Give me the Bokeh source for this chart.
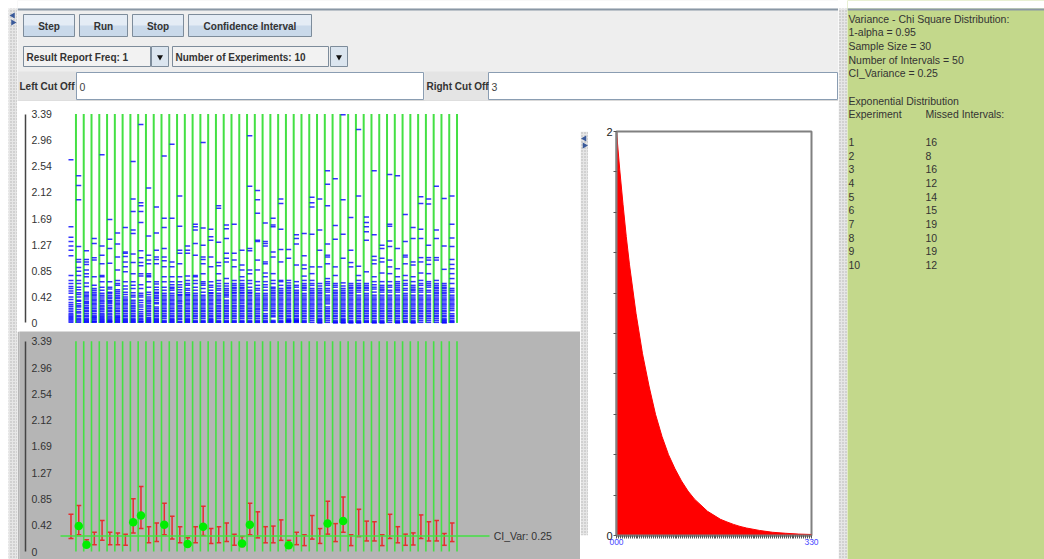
from bokeh.plotting import figure
from bokeh.layouts import row, column
from bokeh.models import (Range1d, LinearAxis, FixedTicker, ColumnDataSource,
                          Whisker, TeeHead)
from bokeh.embed import file_html
from bokeh.resources import INLINE
from bokeh.core.properties import value

FONT = "Liberation Sans"

# ---------------- data ----------------
tick_values = [0, 0.42375, 0.8475, 1.27125, 1.695, 2.11875, 2.5425, 2.96625, 3.39]
tick_labels = ["0", "0.42", "0.85", "1.27", "1.69", "2.12", "2.54", "2.96", "3.39"]

# 50 samples (n = 30) drawn from Exponential(rate 2)
samples = [
 [2.65,1.56,1.39,1.32,1.25,1.18,1.09,0.77,0.69,0.64,0.59,0.56,0.52,0.48,0.42,0.38,0.33,0.30,0.27,0.24,0.21,0.18,0.15,0.13,0.11,0.09,0.07,0.05,0.03,0.01],
 [2.39,2.23,2.00,1.24,1.03,0.99,0.90,0.84,0.77,0.69,0.64,0.58,0.54,0.49,0.42,0.37,0.31,0.26,0.18,0.12,0.07,0.03,0.46,0.35,0.28,0.22,0.16,0.10,0.05,0.01],
 [1.17,1.03,0.99,0.95,0.86,0.80,0.75,0.65,0.59,0.50,0.42,0.31,0.23,0.15,0.07,0.47,0.44,0.39,0.35,0.33,0.28,0.25,0.20,0.18,0.12,0.10,0.05,0.04,0.02,0.01],
 [1.37,1.29,1.06,1.02,0.75,0.61,0.56,0.50,0.42,0.34,0.26,0.20,0.15,0.07,0.02,0.53,0.47,0.45,0.39,0.37,0.31,0.29,0.23,0.18,0.12,0.10,0.09,0.05,0.03,0.01],
 [2.73,1.25,1.10,0.96,0.77,0.75,0.67,0.58,0.53,0.48,0.42,0.31,0.23,0.15,0.07,0.45,0.39,0.36,0.34,0.28,0.26,0.21,0.18,0.13,0.11,0.09,0.05,0.04,0.02,0.01],
 [1.68,1.36,1.21,0.97,0.67,0.58,0.50,0.48,0.42,0.37,0.31,0.20,0.10,0.04,0.55,0.45,0.40,0.35,0.33,0.28,0.25,0.23,0.18,0.15,0.13,0.08,0.06,0.03,0.02,0.01],
 [1.46,1.28,1.07,0.86,0.69,0.61,0.54,0.48,0.42,0.37,0.29,0.23,0.15,0.07,0.04,0.64,0.51,0.45,0.40,0.34,0.31,0.26,0.20,0.18,0.12,0.10,0.09,0.05,0.02,0.01],
 [1.55,1.15,1.13,1.08,0.99,0.91,0.83,0.67,0.50,0.42,0.34,0.26,0.15,0.07,0.60,0.55,0.46,0.39,0.37,0.31,0.29,0.23,0.20,0.18,0.12,0.10,0.05,0.04,0.02,0.01],
 [2.62,2.01,1.81,1.51,1.45,1.12,0.98,0.80,0.67,0.61,0.56,0.49,0.42,0.37,0.31,0.23,0.15,0.10,0.04,0.45,0.34,0.28,0.26,0.20,0.18,0.12,0.07,0.05,0.02,0.01],
 [3.22,1.95,1.90,1.81,1.63,1.17,1.06,0.98,0.93,0.80,0.76,0.62,0.56,0.48,0.42,0.37,0.29,0.22,0.15,0.07,0.45,0.33,0.26,0.18,0.12,0.10,0.05,0.03,0.02,0.01],
 [2.19,1.41,1.10,1.02,0.96,0.80,0.77,0.75,0.67,0.58,0.50,0.42,0.31,0.23,0.12,0.04,0.46,0.39,0.36,0.34,0.28,0.26,0.20,0.18,0.15,0.09,0.07,0.05,0.02,0.01],
 [1.88,1.46,1.18,1.07,1.03,0.96,0.67,0.58,0.50,0.45,0.37,0.26,0.15,0.07,0.63,0.54,0.48,0.42,0.40,0.33,0.31,0.23,0.20,0.18,0.12,0.10,0.05,0.04,0.02,0.01],
 [2.71,1.70,1.55,1.21,1.07,1.01,0.91,0.75,0.67,0.58,0.53,0.48,0.42,0.34,0.26,0.15,0.07,0.45,0.39,0.37,0.31,0.29,0.23,0.20,0.18,0.12,0.10,0.04,0.02,0.01],
 [2.90,1.70,0.99,0.91,0.75,0.67,0.58,0.53,0.48,0.42,0.34,0.26,0.15,0.07,0.62,0.56,0.45,0.39,0.37,0.31,0.29,0.23,0.20,0.18,0.12,0.10,0.05,0.04,0.02,0.01],
 [2.06,1.57,1.18,1.13,0.96,0.75,0.67,0.58,0.50,0.42,0.31,0.23,0.15,0.07,0.62,0.54,0.46,0.45,0.39,0.36,0.34,0.28,0.26,0.20,0.18,0.12,0.10,0.05,0.02,0.01],
 [1.25,1.18,1.13,0.76,0.69,0.61,0.56,0.49,0.42,0.34,0.26,0.15,0.07,0.64,0.53,0.46,0.45,0.39,0.37,0.31,0.29,0.23,0.20,0.18,0.12,0.10,0.05,0.04,0.02,0.01],
 [1.60,1.56,1.51,1.29,1.10,0.77,0.75,0.69,0.64,0.58,0.53,0.48,0.42,0.37,0.29,0.20,0.12,0.04,0.45,0.39,0.34,0.31,0.26,0.23,0.18,0.15,0.10,0.07,0.02,0.01],
 [2.93,1.54,1.26,1.07,1.03,0.96,0.80,0.67,0.61,0.56,0.50,0.42,0.34,0.26,0.15,0.07,0.64,0.45,0.39,0.37,0.31,0.29,0.23,0.20,0.18,0.12,0.10,0.04,0.02,0.01],
 [1.52,1.40,1.34,1.07,0.91,0.67,0.61,0.53,0.45,0.39,0.34,0.26,0.15,0.07,0.58,0.49,0.48,0.42,0.37,0.31,0.29,0.23,0.20,0.18,0.12,0.10,0.05,0.04,0.02,0.01],
 [1.90,1.86,1.31,0.98,0.93,0.80,0.69,0.64,0.56,0.48,0.39,0.31,0.23,0.15,0.07,0.60,0.53,0.45,0.42,0.37,0.34,0.28,0.26,0.20,0.18,0.12,0.10,0.04,0.02,0.01],
 [1.59,1.53,1.37,1.13,1.05,0.99,0.72,0.64,0.56,0.50,0.42,0.31,0.23,0.15,0.07,0.60,0.53,0.47,0.45,0.37,0.34,0.28,0.26,0.20,0.18,0.12,0.10,0.04,0.02,0.01],
 [1.60,1.13,1.02,0.91,0.69,0.61,0.56,0.48,0.39,0.31,0.23,0.15,0.07,0.64,0.58,0.53,0.50,0.45,0.42,0.37,0.34,0.28,0.26,0.20,0.18,0.12,0.10,0.04,0.02,0.01],
 [1.18,0.94,0.86,0.75,0.69,0.61,0.53,0.45,0.37,0.31,0.23,0.15,0.07,0.64,0.58,0.56,0.50,0.48,0.42,0.39,0.34,0.28,0.26,0.20,0.18,0.12,0.10,0.04,0.02,0.01],
 [3.04,2.22,1.21,1.17,0.86,0.80,0.69,0.58,0.45,0.37,0.29,0.23,0.15,0.07,0.64,0.53,0.50,0.48,0.42,0.39,0.34,0.31,0.26,0.20,0.18,0.12,0.10,0.04,0.02,0.01],
 [2.15,2.00,1.78,1.34,1.32,1.02,0.86,0.67,0.61,0.56,0.48,0.42,0.37,0.29,0.21,0.12,0.04,0.53,0.45,0.39,0.34,0.31,0.26,0.23,0.18,0.15,0.10,0.07,0.02,0.01],
 [1.62,1.32,1.29,1.25,0.99,0.96,0.81,0.75,0.67,0.58,0.45,0.34,0.29,0.15,0.04,0.62,0.53,0.48,0.42,0.39,0.37,0.31,0.26,0.23,0.20,0.12,0.10,0.07,0.02,0.01],
 [1.70,1.59,1.56,1.15,1.07,0.80,0.69,0.58,0.56,0.50,0.42,0.34,0.29,0.23,0.18,0.10,0.04,0.64,0.53,0.48,0.45,0.39,0.37,0.31,0.26,0.20,0.15,0.12,0.02,0.01],
 [2.01,1.94,1.52,1.19,0.99,0.69,0.67,0.61,0.56,0.50,0.42,0.34,0.29,0.23,0.15,0.07,0.04,0.53,0.48,0.45,0.39,0.37,0.31,0.26,0.20,0.18,0.12,0.10,0.02,0.01],
 [1.19,1.05,0.69,0.65,0.61,0.56,0.48,0.39,0.34,0.26,0.18,0.12,0.07,0.03,0.58,0.53,0.50,0.45,0.42,0.37,0.31,0.29,0.23,0.20,0.15,0.10,0.05,0.04,0.02,0.01],
 [1.43,1.37,1.28,0.94,0.67,0.58,0.50,0.42,0.37,0.26,0.20,0.15,0.07,0.03,0.61,0.53,0.48,0.45,0.39,0.34,0.31,0.29,0.23,0.18,0.12,0.10,0.05,0.04,0.02,0.01],
 [1.45,1.09,0.94,0.88,0.76,0.69,0.64,0.58,0.53,0.42,0.31,0.23,0.15,0.07,0.61,0.56,0.48,0.45,0.39,0.37,0.34,0.29,0.26,0.20,0.18,0.12,0.10,0.04,0.02,0.01],
 [2.04,1.95,1.88,1.44,0.91,0.80,0.69,0.61,0.53,0.48,0.42,0.37,0.31,0.23,0.15,0.07,0.64,0.56,0.50,0.45,0.39,0.34,0.29,0.26,0.20,0.18,0.12,0.10,0.04,0.01],
 [2.01,1.51,1.18,0.91,0.64,0.56,0.48,0.37,0.31,0.23,0.15,0.10,0.04,0.60,0.53,0.50,0.45,0.42,0.39,0.34,0.29,0.26,0.20,0.18,0.12,0.07,0.05,0.02,0.01,0.00],
 [2.47,2.25,1.90,1.28,1.10,1.07,0.96,0.72,0.67,0.61,0.56,0.50,0.42,0.37,0.26,0.18,0.10,0.01,0.64,0.53,0.45,0.39,0.34,0.31,0.23,0.20,0.15,0.12,0.07,0.04],
 [2.34,1.58,1.36,0.91,0.77,0.64,0.58,0.48,0.42,0.37,0.26,0.15,0.07,0.61,0.53,0.50,0.45,0.39,0.34,0.31,0.29,0.23,0.20,0.18,0.12,0.10,0.04,0.02,0.01,0.00],
 [3.38,2.00,1.44,1.05,0.65,0.53,0.45,0.39,0.31,0.23,0.15,0.10,0.04,0.60,0.56,0.50,0.48,0.42,0.37,0.34,0.29,0.26,0.20,0.18,0.12,0.07,0.05,0.02,0.01,0.00],
 [1.71,1.18,0.98,0.91,0.64,0.58,0.53,0.48,0.42,0.37,0.31,0.23,0.15,0.07,0.61,0.56,0.50,0.45,0.39,0.34,0.29,0.26,0.20,0.18,0.12,0.10,0.04,0.02,0.01,0.00],
 [3.14,2.06,0.92,0.77,0.69,0.64,0.58,0.50,0.42,0.34,0.26,0.15,0.07,0.61,0.56,0.53,0.45,0.39,0.37,0.31,0.29,0.23,0.20,0.18,0.12,0.10,0.04,0.02,0.01,0.00],
 [1.72,1.63,1.56,1.48,1.34,0.83,0.64,0.58,0.53,0.48,0.39,0.31,0.23,0.15,0.07,0.61,0.56,0.45,0.42,0.37,0.34,0.29,0.26,0.20,0.18,0.12,0.10,0.04,0.02,0.01],
 [2.47,1.43,1.08,1.02,0.96,0.75,0.67,0.58,0.50,0.42,0.34,0.26,0.18,0.10,0.04,0.62,0.55,0.45,0.39,0.37,0.31,0.29,0.23,0.20,0.15,0.12,0.07,0.02,0.01,0.00],
 [1.26,1.21,1.05,0.99,0.81,0.67,0.58,0.50,0.42,0.37,0.29,0.20,0.12,0.04,0.61,0.55,0.53,0.45,0.39,0.34,0.31,0.26,0.23,0.18,0.15,0.10,0.07,0.02,0.01,0.00],
 [2.41,1.60,1.57,1.33,1.24,1.02,0.91,0.80,0.67,0.58,0.50,0.42,0.31,0.23,0.15,0.07,0.61,0.53,0.45,0.39,0.37,0.34,0.29,0.26,0.20,0.18,0.12,0.10,0.04,0.01],
 [2.39,1.21,0.88,0.75,0.67,0.58,0.50,0.42,0.34,0.26,0.15,0.07,0.64,0.61,0.55,0.53,0.45,0.39,0.37,0.31,0.29,0.23,0.20,0.18,0.12,0.10,0.04,0.02,0.01,0.00],
 [1.76,1.32,1.10,1.07,0.96,0.77,0.69,0.61,0.56,0.48,0.42,0.37,0.31,0.23,0.15,0.07,0.64,0.53,0.45,0.39,0.34,0.29,0.26,0.20,0.18,0.12,0.10,0.04,0.02,0.01],
 [1.55,1.37,0.99,0.94,0.75,0.67,0.58,0.50,0.42,0.34,0.26,0.18,0.10,0.04,0.61,0.55,0.53,0.45,0.39,0.37,0.31,0.29,0.23,0.20,0.15,0.12,0.07,0.02,0.01,0.00],
 [2.05,1.94,1.52,1.37,1.06,0.99,0.81,0.69,0.64,0.56,0.50,0.42,0.34,0.26,0.18,0.10,0.04,0.61,0.53,0.45,0.39,0.37,0.31,0.29,0.23,0.20,0.15,0.12,0.07,0.01],
 [2.01,1.93,1.26,1.06,1.02,0.95,0.80,0.67,0.58,0.53,0.45,0.37,0.31,0.20,0.15,0.07,0.64,0.61,0.50,0.42,0.39,0.34,0.29,0.26,0.23,0.18,0.12,0.10,0.04,0.01],
 [2.22,1.51,1.37,1.06,1.02,0.69,0.61,0.53,0.48,0.39,0.34,0.26,0.15,0.07,0.64,0.58,0.56,0.50,0.45,0.42,0.37,0.31,0.29,0.23,0.20,0.18,0.12,0.10,0.04,0.01],
 [2.02,1.25,0.87,0.64,0.56,0.50,0.45,0.37,0.31,0.20,0.12,0.04,0.61,0.58,0.53,0.48,0.42,0.39,0.34,0.29,0.26,0.23,0.18,0.15,0.10,0.07,0.05,0.02,0.01,0.00],
 [2.06,1.60,1.38,1.24,1.03,0.95,0.88,0.80,0.72,0.56,0.53,0.45,0.34,0.31,0.15,0.12,0.04,0.64,0.50,0.42,0.39,0.37,0.29,0.26,0.23,0.20,0.10,0.07,0.02,0.01],
]

# 95% confidence intervals for the variance, one per sample
ci_lower = [0.21,0.27,0.07,0.11,0.18,0.11,0.11,0.10,0.30,0.37,
            0.14,0.16,0.27,0.20,0.14,0.08,0.14,0.26,0.13,0.14,
            0.16,0.10,0.08,0.27,0.22,0.14,0.14,0.18,0.065,0.11,
            0.095,0.20,0.13,0.28,0.16,0.31,0.095,0.24,0.17,0.17,
            0.095,0.21,0.14,0.10,0.105,0.21,0.17,0.17,0.10,0.16]
ci_upper = [0.60,0.74,0.19,0.31,0.50,0.31,0.30,0.28,0.85,1.05,
            0.40,0.46,0.78,0.57,0.40,0.22,0.40,0.73,0.37,0.40,
            0.46,0.28,0.24,0.78,0.64,0.40,0.41,0.51,0.18,0.31,
            0.27,0.58,0.37,0.81,0.45,0.88,0.27,0.68,0.49,0.48,
            0.27,0.60,0.40,0.28,0.30,0.59,0.48,0.50,0.29,0.46]
# intervals that miss the true variance, with their sample variance
missed_ids = [2, 3, 9, 10, 13, 16, 18, 23, 24, 29, 34, 36]
missed_var = [0.41, 0.11, 0.47, 0.58, 0.43, 0.12, 0.40, 0.13, 0.43, 0.10, 0.45, 0.49]
ci_var = 0.25
ci_var_label = "CI_Var: 0.25"

# exponential density (rate 2)
pdf_x = [0, 0.05, 0.1, 0.15, 0.2, 0.3, 0.4, 0.5, 0.6, 0.7, 0.8, 0.9, 1.0, 1.1, 1.2, 1.3,
         1.4, 1.5, 1.6, 1.7, 1.8, 1.9, 2.0, 2.2, 2.4, 2.6, 2.8, 3.0]
pdf_y = [2.0, 1.81, 1.64, 1.48, 1.34, 1.10, 0.90, 0.74, 0.60, 0.49, 0.40, 0.33, 0.27, 0.22, 0.18, 0.15,
         0.12, 0.10, 0.08, 0.067, 0.055, 0.045, 0.037, 0.025, 0.016, 0.011, 0.007, 0.005]
pdf_xlabels = {0: "000", 3: "330"}

info_lines = ["Variance - Chi Square Distribution:", "1-alpha = 0.95", "Sample Size = 30",
              "Number of Intervals = 50", "CI_Variance = 0.25", "", "Exponential Distribution",
              "Experiment", ""]
info_head2 = "Missed Intervals:"
experiments = [1, 2, 3, 4, 5, 6, 7, 8, 9, 10]
missed_counts = [16, 8, 16, 12, 14, 15, 19, 10, 19, 12]

btn_labels = ["Step", "Run", "Stop", "Confidence Interval"]
combo_labels = ["Result Report Freq: 1", "Number of Experiments: 10"]
field_labels = ["Left Cut Off", "Right Cut Off"]
field_values = ["0", "3"]

# ---------------- styles / layout ----------------
GREEN_LINE = "#44e044"
BLUE = "#0000ff"
RED = "#e62e2e"
DOT = "#00ee00"
GRAY_BG = "#b5b5b5"
PANEL = "#eeeeee"
INFO_BG = "#c3d88b"
TXT = "#333333"

X_RANGE = (-5.62, 66.52)       # interval index scale of the two left panels
AXIS_X = -4.85                 # where the value axis sits
SEP = 0.64                     # separator offset from an interval
ids = list(range(1, len(samples) + 1))
Y_TOP = tick_values[-1]


def chrome(w, h, x0, x1, y0, y1, bg):
    p = figure(width=w, height=h, x_range=Range1d(x0, x1), y_range=Range1d(y1, y0),
               output_backend="svg", toolbar_location=None,
               x_axis_location=None, y_axis_location=None,
               min_border=0, min_border_left=0, min_border_right=0,
               min_border_top=0, min_border_bottom=0,
               background_fill_color=bg, border_fill_color=bg, outline_line_color=None)
    p.grid.visible = False
    return p


def strip(w, h, x0, x1, y0, y1, sx0, sx1, sy0, arrows_y=None):
    p = chrome(w, h, x0, x1, y0, y1, "white")
    p.quad(left=sx0, right=sx1, top=sy0, bottom=y1, fill_color="#e6e6e6",
           line_color=None, hatch_pattern="dot", hatch_color="#9a9a9a",
           hatch_scale=3, hatch_alpha=0.7)
    if arrows_y is not None:
        xc = (sx0 + sx1) / 2
        p.scatter(x=[xc, xc], y=arrows_y, marker="triangle", angle=[1.5708, -1.5708],
                  size=6, fill_color="#3a5a9a", line_color=None)
    return p


def value_axis(p):
    ax = LinearAxis(fixed_location=AXIS_X, bounds=(0, Y_TOP),
                    ticker=FixedTicker(ticks=tick_values, minor_ticks=[]),
                    major_label_overrides={t: l for t, l in zip(tick_values, tick_labels)},
                    axis_line_color="#444444", axis_line_width=1.5,
                    major_tick_out=0, major_tick_in=0, minor_tick_out=0, minor_tick_in=0,
                    major_label_standoff=6, major_label_text_font=FONT,
                    major_label_text_font_size="10.5px", major_label_text_color=TXT)
    p.add_layout(ax, "right")


def left_panel(h, yr, bg):
    p = figure(width=563, height=h, x_range=Range1d(*X_RANGE), y_range=Range1d(*yr),
               output_backend="svg", toolbar_location=None,
               x_axis_location=None, y_axis_location=None,
               min_border_left=2, min_border_right=0,
               min_border_top=0, min_border_bottom=0,
               background_fill_color=bg, border_fill_color=bg, outline_line_color=None)
    p.grid.visible = False
    return p


# ---- controls ----
ctl = chrome(821, 101, 17, 838, 0, 101, PANEL)
ctl.quad(left=17, right=838, top=0, bottom=8, fill_color="white", line_color=None)
ctl.quad(left=17, right=838, top=8, bottom=10, fill_color="#8a97a5", line_color=None)
ctl.quad(left=17, right=838, top=100, bottom=101, fill_color="#c4c4c4", line_color=None)
bl = [23, 79, 132, 188]
br = [74, 127, 183, 311]
ctl.quad(left=bl, right=br, top=[14] * 4, bottom=[36] * 4, fill_color="#c9d9ea", line_color=None)
ctl.quad(left=bl, right=br, top=[14] * 4, bottom=[25] * 4, fill_color="#e4ecf5", line_color=None)
ctl.quad(left=bl, right=br, top=[14] * 4, bottom=[36] * 4, fill_color=None, line_color="#7d8c9b")
ctl.text(x=[(a + b) / 2 for a, b in zip(bl, br)], y=[25.5] * 4, text=btn_labels,
         text_font=value(FONT), text_font_size="10px", text_font_style="bold",
         text_color=TXT, text_align="center", text_baseline="middle")
cl = [23, 172]
cr = [150, 328]
al = [151, 330]
ar = [168, 347]
ctl.quad(left=cl, right=cr, top=[46] * 2, bottom=[66] * 2, fill_color="#f2f2f2", line_color="#7d8c9b")
ctl.quad(left=al, right=ar, top=[46] * 2, bottom=[66] * 2, fill_color="#dbe5ef", line_color="#7d8c9b")
ctl.scatter(x=[(a + b) / 2 for a, b in zip(al, ar)], y=[56.5] * 2, marker="inverted_triangle",
            size=6, fill_color="#111111", line_color=None)
ctl.text(x=[c + 3 for c in cl], y=[56.5] * 2, text=combo_labels,
         text_font=value(FONT), text_font_size="10px", text_font_style="bold",
         text_color=TXT, text_align="left", text_baseline="middle")
ll = [17, 424]
lr = [76, 488]
fl = [76, 488]
fr = [423, 837]
ctl.quad(left=ll, right=lr, top=[71] * 2, bottom=[100] * 2, fill_color="#e4e4e4", line_color=None)
ctl.quad(left=fl, right=fr, top=[72] * 2, bottom=[99] * 2, fill_color="white", line_color="#8a9db2")
ctl.text(x=[19, 426], y=[86] * 2, text=field_labels,
         text_font=value(FONT), text_font_size="10px", text_font_style="bold",
         text_color=TXT, text_align="left", text_baseline="middle")
ctl.text(x=[f + 3 for f in fl], y=[86] * 2, text=field_values,
         text_font=value(FONT), text_font_size="10.5px",
         text_color="#444444", text_align="left", text_baseline="middle")

# ---- upper left: samples ----
top = left_panel(230, (-0.139, 3.594), "white")
top.segment(x0=[i + SEP for i in ids], y0=[0] * len(ids), x1=[i + SEP for i in ids],
            y1=[Y_TOP] * len(ids), line_color=GREEN_LINE, line_width=2)
dash_x, dash_y = [], []
for i, col in zip(ids, samples):
    dash_x += [i] * len(col)
    dash_y += col
top.scatter(x=dash_x, y=dash_y, marker="dash", size=5, line_color=BLUE,
            line_width=1.5, line_alpha=0.8)
value_axis(top)

# ---- lower left: confidence intervals ----
bot = left_panel(228, (-0.129, 3.548), GRAY_BG)
bot.segment(x0=[i + SEP for i in ids], y0=[0] * len(ids), x1=[i + SEP for i in ids],
            y1=[Y_TOP] * len(ids), line_color=GREEN_LINE, line_width=1.6)
bot.segment(x0=[-0.35], y0=[ci_var], x1=[54.82], y1=[ci_var], line_color=GREEN_LINE, line_width=1.6)
ci_src = ColumnDataSource(dict(x=ids, lower=ci_lower, upper=ci_upper))
bot.add_layout(Whisker(source=ci_src, base="x", lower="lower", upper="upper",
                       dimension="height", line_color=RED, line_width=1.5,
                       upper_head=TeeHead(size=5, line_color=RED, line_width=1.5),
                       lower_head=TeeHead(size=5, line_color=RED, line_width=1.5)))
bot.scatter(x=missed_ids, y=missed_var, size=8.5, fill_color=DOT, line_color=None)
bot.text(x=[55.35], y=[ci_var], text=[ci_var_label], text_font=value(FONT),
         text_font_size="10.5px", text_color=TXT, text_align="left", text_baseline="middle")
value_axis(bot)

# ---- right: exponential density ----
rp = figure(width=250, height=458, x_range=Range1d(0, 3), y_range=Range1d(0, 2),
            output_backend="svg", toolbar_location=None,
            min_border_left=28, min_border_right=27, min_border_top=30, min_border_bottom=24,
            background_fill_color="white", border_fill_color="white",
            outline_line_color="#808080", outline_line_width=2)
rp.grid.visible = False
rp.varea(x=pdf_x, y1=[0] * len(pdf_x), y2=pdf_y, fill_color="#ff0000")
rp.line(x=pdf_x, y=pdf_y, line_color="#ff0000", line_width=1)
rp.xaxis.ticker = FixedTicker(ticks=[0, 3], minor_ticks=[round(0.03 * k, 2) for k in range(1, 100)])
rp.xaxis.major_label_overrides = pdf_xlabels
rp.xaxis.major_label_text_color = "#4848ff"
rp.xaxis.major_label_text_font_size = "8.5px"
rp.xaxis.major_label_standoff = 0
rp.yaxis.ticker = FixedTicker(ticks=[0, 2], minor_ticks=[0.2, 0.4, 0.6, 0.8, 1.0, 1.2, 1.4, 1.6, 1.8])
rp.yaxis.major_label_text_color = "#222222"
rp.yaxis.major_label_text_font_size = "11px"
rp.yaxis.major_label_standoff = 1
for ax in (rp.xaxis, rp.yaxis):
    ax.axis_line_color = "#808080"
    ax.axis_line_width = 2
    ax.major_tick_out = 3
    ax.major_tick_in = 0
    ax.minor_tick_out = 3
    ax.minor_tick_in = 0
    ax.major_tick_line_color = "#555555"
    ax.minor_tick_line_color = "#555555"
    ax.major_label_text_font = FONT

# ---- info panel ----
info = chrome(197, 559, 847, 1044, 0, 559, INFO_BG)
info.quad(left=847, right=1044, top=0, bottom=8, fill_color="white", line_color=None)
info.quad(left=847, right=1044, top=8, bottom=10, fill_color="#8a97a5", line_color=None)
LINE0, LINE_H = 18, 13.7
info.text(x=[848] * len(info_lines), y=[LINE0 + LINE_H * k for k in range(len(info_lines))],
          text=info_lines, text_font=value(FONT), text_font_size="10.5px", text_color=TXT,
          text_align="left", text_baseline="middle")
info.text(x=[925], y=[LINE0 + LINE_H * 7], text=[info_head2], text_font=value(FONT),
          text_font_size="10.5px", text_color=TXT, text_align="left", text_baseline="middle")
rows_y = [LINE0 + LINE_H * (len(info_lines) + k) for k in range(len(experiments))]
info.text(x=[848] * len(experiments), y=rows_y, text=[str(e) for e in experiments],
          text_font=value(FONT), text_font_size="10.5px", text_color=TXT,
          text_align="left", text_baseline="middle")
info.text(x=[925] * len(missed_counts), y=rows_y, text=[str(m) for m in missed_counts],
          text_font=value(FONT), text_font_size="10.5px", text_color=TXT,
          text_align="left", text_baseline="middle")

# ---- strips / splitters ----
s_left = strip(17, 559, 0, 17, 0, 559, 8, 17, 8, arrows_y=[15, 22])
s_mid = strip(8, 458, 580, 588, 101, 559, 580, 588, 101, arrows_y=[109, 117])
s_right = strip(9, 559, 838, 847, 0, 559, 838, 847, 8)

layout = row(s_left,
             column(ctl, row(column(top, bot), s_mid, rp)),
             s_right, info)

open("out.html", "w").write(file_html(layout, INLINE))
